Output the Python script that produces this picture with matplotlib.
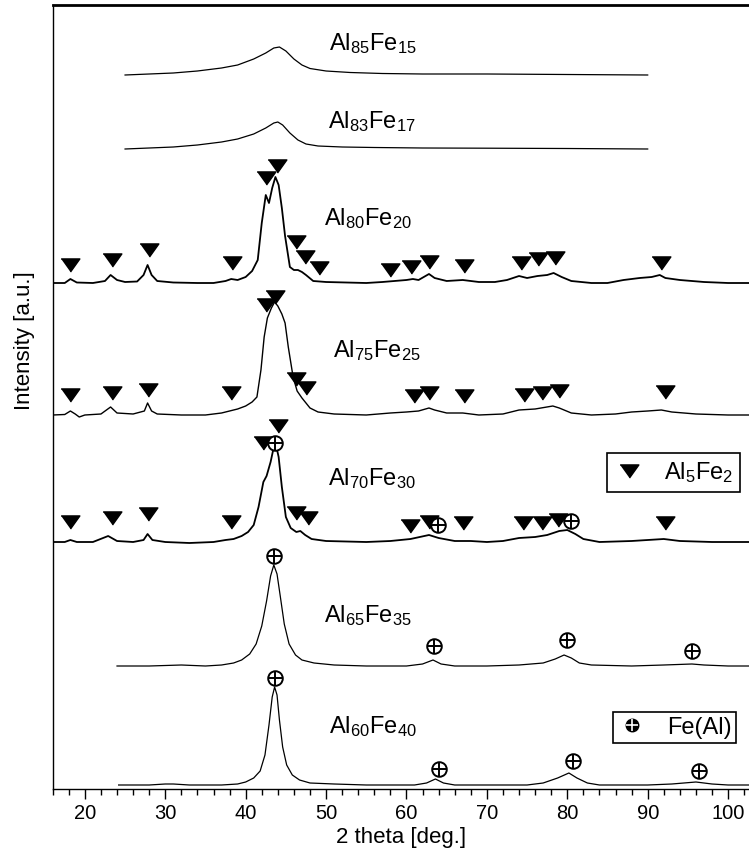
import matplotlib
matplotlib.use('Agg')
import matplotlib.pyplot as plt
from matplotlib.lines import Line2D
from matplotlib.ticker import MultipleLocator

# ==========================================
# XRD patterns of Al-Fe alloys (stacked)
# ==========================================

plt.rcParams['font.family'] = ['Liberation Sans', 'DejaVu Sans']
plt.rcParams['mathtext.fontset'] = 'custom'
plt.rcParams['mathtext.rm'] = 'Liberation Sans'
plt.rcParams['mathtext.it'] = 'Liberation Sans:italic'
plt.rcParams['mathtext.bf'] = 'Liberation Sans:bold'

# sample names, bottom -> top
samples = ['Al$_{60}$Fe$_{40}$', 'Al$_{65}$Fe$_{35}$', 'Al$_{70}$Fe$_{30}$', 'Al$_{75}$Fe$_{25}$',
           'Al$_{80}$Fe$_{20}$', 'Al$_{83}$Fe$_{17}$', 'Al$_{85}$Fe$_{15}$']
# vertical shift of every pattern (a.u.)
offsets = [4, 123, 247, 374, 506, 640, 714]

# --- patterns: 2 theta [deg] / intensity above own baseline [a.u.] ---
tt_60 = [24.2, 28, 30, 31, 33, 37, 39, 40, 41, 41.8, 42.4, 42.9, 43.3, 43.6, 43.9, 44.2, 44.6, 45.1, 45.8, 46.7,
         48, 51, 55, 61, 62.5, 63.6, 64.6, 66, 75, 77, 78.8, 80.2, 81.2, 82.5, 84, 90, 93, 96, 98, 100, 102.6]
i_60 = [0, 0, 1, 1, 0, 0, 1, 3, 7, 14, 30, 60, 88, 98, 90, 65, 38, 20, 10, 5,
        2, 1, 0, 0, 2, 6, 2, 0, 0, 2, 7, 12, 7, 2, 0, 0, 1, 3, 1, 0, 0]

tt_65 = [24, 28, 32, 35, 37, 38.5, 39.5, 40.5, 41.3, 42, 42.6, 43.1, 43.5, 43.9, 44.3, 44.8, 45.4, 46.2, 47, 48.5,
         51, 55, 60, 62, 63.3, 64.3, 66, 70, 74, 77, 78.5, 79.6, 80.5, 81.5, 83, 88, 92, 95.5, 97, 100, 102.6]
i_65 = [0, 0, 1, 0, 1, 3, 6, 12, 22, 40, 65, 90, 101, 92, 70, 42, 22, 11, 6, 3,
        1, 0, 0, 2, 6, 2, 0, 0, 1, 3, 7, 11, 8, 3, 1, 0, 1, 2, 1, 0, 0]

tt_70 = [16, 17.5, 18.2, 19, 21, 22.9, 24, 26, 27.3, 27.8, 28.4, 30, 33, 36, 37.5, 38.5, 39.5, 40.3, 41, 41.6,
         42.2, 42.6, 43.1, 43.5, 43.8, 44.1, 44.5, 45, 45.6, 46.3, 46.8, 47.4, 48.2, 50, 55, 58, 60.5, 62.8, 64, 66,
         68, 70, 72, 74, 76, 77.5, 79, 80, 81, 82, 84, 88, 90, 92, 94, 98, 102.6]
i_70 = [0, 0, 2, 0, 0, 6, 1, 0, 2, 8, 2, 0, -1, 0, 2, 3, 6, 10, 17, 35,
        60, 66, 80, 95, 96, 85, 55, 25, 14, 10, 11, 7, 3, 1, 0, 1, 3, 7, 4, 1,
        1, 0, 1, 4, 5, 7, 11, 12, 8, 3, 0, 1, 2, 3, 1, 0, 0]

tt_75 = [16, 17.5, 18.2, 18.8, 19.3, 20, 22, 23.2, 24, 26, 27.4, 27.8, 28.3, 29, 32, 35, 37, 38, 39, 40,
         40.8, 41.4, 41.9, 42.3, 42.7, 43.2, 43.6, 44.0, 44.5, 44.9, 45.3, 45.9, 46.4, 47.0, 47.5, 48, 49, 51, 55, 58,
         60, 61.5, 62.8, 63.5, 65, 67, 69, 72, 74, 76, 78.2, 79, 80.5, 83, 86, 88, 90, 91.7, 93, 96, 100, 102.6]
i_75 = [0, 0.5, 4, 1, -2, 0, 1, 8, 2, 1, 4, 12, 4, 1, 0, 0, 2, 4, 6, 9,
        13, 18, 45, 78, 97, 107, 113, 109, 101, 92, 68, 38, 24, 17, 12, 7, 3, 1, 0, 2,
        3, 4, 7, 5, 2, 2, 0, 1, 5, 6, 9, 7, 2, 0, 1, 3, 4, 5, 3, 1, 0, 0]

tt_80 = [16, 17.5, 18.2, 19, 21, 22.5, 23.2, 24, 25, 26.5, 27.3, 27.8, 28.3, 29, 31, 34, 36, 37.5, 38.2, 39,
         40, 40.8, 41.5, 42.0, 42.5, 42.9, 43.3, 43.7, 44.1, 44.5, 44.9, 45.5, 46.0, 46.5, 47.0, 47.5, 48.4, 50, 55, 57,
         58.5, 60, 60.8, 61.5, 62.8, 63.5, 65, 67, 69, 71, 72.5, 74, 75, 76.3, 77.5, 78.3, 79.3, 80.5, 83, 85,
         87, 89, 90.5, 91.5, 92.2, 94, 97, 100, 102.6]
i_80 = [0, 0, 4, 0.5, 0, 2, 8, 3, 1, 1.5, 8, 18, 8, 2, 0.5, 0, 0, 2, 4, 3,
        6, 12, 23, 60, 88, 80, 95, 106, 98, 75, 47, 16, 13, 13, 11, 8, 2, 1, 0, 1,
        2, 3, 4, 3, 9, 5, 2, 3, 1, 1, 3, 7, 5, 7, 8, 10, 6, 2, 0, 0,
        3, 5, 6, 8, 5, 3, 1, 0, 0]

tt_83 = [25, 28, 31, 34, 37, 39, 41, 42.5, 43.5, 44.0, 44.6, 45.5, 46.5, 47.5, 49, 52, 56, 62, 70, 80, 90]
i_83 = [0, 1, 2, 4, 7, 10, 15, 21, 26, 27, 24, 16, 9, 5, 3, 2, 1.5, 1, 0.8, 0.5, 0]

tt_85 = [25, 28, 31, 34, 37, 39, 41, 42.5, 43.5, 44.2, 45, 46, 47, 48, 50, 53, 57, 62, 70, 80, 90]
i_85 = [0, 1, 2, 4, 7, 10, 16, 22, 27, 28, 24, 16, 10, 6.5, 4, 2.5, 1.5, 1, 1, 0.5, 0]

# --- phase markers (2 theta, height above baseline) ---
tri_80_tt = [18.2, 23.4, 28.0, 38.3, 42.5, 43.9, 46.2, 47.4, 49.1, 58.0, 60.6, 62.8, 67.1, 74.2, 76.3, 78.5, 91.7]
tri_80_h = [18, 23, 33, 20, 105, 117, 41, 26, 15, 13, 16, 21, 17, 20, 24, 25, 20]
tri_75_tt = [18.2, 23.4, 27.9, 38.2, 42.5, 43.7, 46.2, 47.5, 60.9, 62.8, 67.2, 74.6, 76.8, 79.0, 92.1]
tri_75_h = [20, 22, 25, 22, 110, 118, 36, 27, 19, 22, 19, 20, 22, 24, 23]
tri_70_tt = [18.2, 23.4, 27.9, 38.2, 42.2, 44.0, 46.3, 47.8, 60.5, 62.8, 67.0, 74.5, 76.8, 78.8, 92.1]
tri_70_h = [20, 24, 28, 20, 99, 116, 29, 24, 16, 20, 19, 19, 19, 22, 19]

fe_70_tt = [43.6, 63.9, 80.5]
fe_70_h = [99, 17, 21]
fe_65_tt = [43.5, 63.4, 80.0, 95.5]
fe_65_h = [110, 20, 26, 15]
fe_60_tt = [43.6, 64.0, 80.7, 96.4]
fe_60_h = [107, 16, 24, 14]

patterns = [(tt_60, i_60), (tt_65, i_65), (tt_70, i_70), (tt_75, i_75),
            (tt_80, i_80), (tt_83, i_83), (tt_85, i_85)]
# noisy scans look heavier in the original
line_w = [0.9, 0.9, 1.3, 1.0, 1.3, 0.9, 0.9]

# label anchor (2 theta, height above baseline)
label_x = [50.4, 49.8, 50.2, 50.8, 49.8, 50.3, 50.4]
label_dy = [52, 44, 57, 58, 58, 21, 25]

TRI = [(-1, 0.7), (1, 0.7), (0, -0.7)]


def shift(vals, off):
    return [v + off for v in vals]


fig = plt.figure(figsize=(7.49, 8.56), dpi=100)
ax = fig.add_axes([52.7 / 749, 67 / 856, 696.3 / 749, 784 / 856])

for (tt, inten), off, lw in zip(patterns, offsets, line_w):
    ax.plot(tt, shift(inten, off), color='k', lw=lw)

for name, lx, dy, off in zip(samples, label_x, label_dy, offsets):
    ax.text(lx, off + dy, name, fontsize=17, ha='left', va='baseline')

# Al5Fe2 triangles
for tt, h, off in [(tri_80_tt, tri_80_h, offsets[4]), (tri_75_tt, tri_75_h, offsets[3]),
                   (tri_70_tt, tri_70_h, offsets[2])]:
    ax.plot(tt, shift(h, off), ls='none', marker=TRI, ms=13.5, color='k', zorder=3)

# Fe(Al) circles with cross
for tt, h, off in [(fe_70_tt, fe_70_h, offsets[2]), (fe_65_tt, fe_65_h, offsets[1]),
                   (fe_60_tt, fe_60_h, offsets[0])]:
    ax.plot(tt, shift(h, off), ls='none', marker='o', ms=10.5, mfc='white', mec='k', mew=1.4, zorder=4)
    ax.plot(tt, shift(h, off), ls='none', marker='+', ms=10.5, color='k', mew=1.4, zorder=5)

ax.set_xlim(16, 102.6)
ax.set_ylim(0, 784)
ax.set_yticks([])
ax.xaxis.set_minor_locator(MultipleLocator(2))
ax.set_xticks(range(20, 101, 10))
ax.tick_params(axis='x', which='major', direction='out', length=7, width=1, labelsize=14.5, pad=4)
ax.tick_params(axis='x', which='minor', direction='out', length=4, width=1)

ax.spines['right'].set_visible(False)
ax.spines['top'].set_linewidth(2)
ax.spines['left'].set_linewidth(1)
ax.spines['bottom'].set_linewidth(1)

ax.set_xlabel('2 theta [deg.]', fontsize=16, labelpad=3)
ax.set_ylabel('Intensity [a.u.]', fontsize=16)
ax.yaxis.set_label_coords(-0.026, 0.572)

# two separate legend boxes
h_tri = Line2D([], [], ls='none', marker=TRI, ms=13.5, color='k')
leg1 = ax.legend([h_tri], ['Al$_5$Fe$_2$'], loc='center', bbox_to_anchor=(0.892, 0.4037),
                 fontsize=17, fancybox=False, edgecolor='k', framealpha=1,
                 handlelength=1.2, handletextpad=0.9, borderpad=0.3, borderaxespad=0)
leg1.get_frame().set_linewidth(1.2)
ax.add_artist(leg1)

h_dot = Line2D([], [], ls='none', marker='o', ms=9, color='k')
h_plus = Line2D([], [], ls='none', marker='+', ms=9, color='white', mew=1.2)
leg2 = ax.legend([(h_dot, h_plus)], ['Fe(Al)'], loc='center', bbox_to_anchor=(0.893, 0.0784),
                 fontsize=17, fancybox=False, edgecolor='k', framealpha=1,
                 handlelength=1.2, handletextpad=0.9, borderpad=0.2, borderaxespad=0)
leg2.get_frame().set_linewidth(1.2)

fig.savefig('out.png', dpi=100)
